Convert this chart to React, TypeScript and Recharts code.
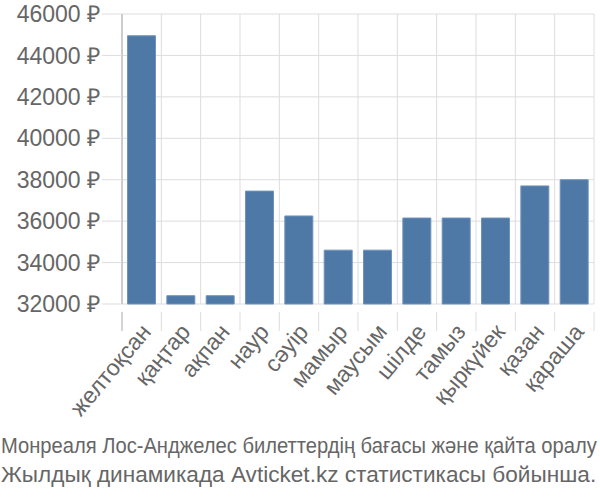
import { useLayoutEffect, useRef, useState } from "react";
import { BarChart, Bar, XAxis, YAxis, CartesianGrid } from "recharts";

// Ticket prices by month (₽)
const months = [
  "желтоқсан", "қаңтар", "ақпан", "наур", "сәуір", "мамыр",
  "маусым", "шілде", "тамыз", "қыркүйек", "қазан", "қараша",
];
const prices = [44950, 32400, 32400, 37450, 36250, 34600, 34600, 36150, 36150, 36150, 37700, 38000];
const yTicks = [32000, 34000, 36000, 38000, 40000, 42000, 44000, 46000];
const captionLines = [
  "Монреаля Лос-Анджелес билеттердің бағасы және қайта оралу",
  "Жылдық динамикада Avticket.kz статистикасы бойынша.",
];

const data = months.map((m, i) => ({ month: m, price: prices[i] }));

const W = 600;
const H = 440;
const margin = { top: 14, right: 6, left: 0, bottom: 0 };
const Y_WIDTH = 122;
const plotW = W - margin.left - margin.right - Y_WIDTH;
const band = plotW / months.length;
const FONT = "Liberation Sans, Arial, sans-serif";

function MonthTick(props: any) {
  const { x, y, payload, index } = props;
  const last = index === months.length - 1;
  return (
    <g>
      <line x1={x - band / 2} x2={x - band / 2} y1={y} y2={y + 19} stroke={index === 0 ? "#aaa" : "#ddd"} />
      {last && <line x1={x + band / 2} x2={x + band / 2} y1={y} y2={y + 19} stroke="#ddd" />}
      <text
        transform={`translate(${x - 2},${y + 10}) rotate(-50)`}
        textAnchor="end"
        dy="0.71em"
        fill="#666"
        fontSize={23}
        fontFamily={FONT}
      >
        {payload.value}
      </text>
    </g>
  );
}

// caption line stretched/squeezed to a given width
function FitLine({ text, width, top, font }: { text: string; width: number; top: number; font: string }) {
  const ref = useRef<HTMLSpanElement>(null);
  const [scale, setScale] = useState(1);
  useLayoutEffect(() => {
    if (ref.current) setScale(width / ref.current.offsetWidth);
  }, [text, width]);
  return (
    <span
      ref={ref}
      style={{
        position: "absolute",
        left: 1,
        top,
        fontFamily: font,
        fontSize: 21.5,
        lineHeight: "24px",
        color: "#666",
        whiteSpace: "nowrap",
        transform: `scaleX(${scale})`,
        transformOrigin: "0 0",
      }}
    >
      {text}
    </span>
  );
}

export default function App() {
  return (
    <div style={{ position: "absolute", left: 0, top: 0, width: W, height: 500, background: "#fff", overflow: "hidden" }}>
      <BarChart width={W} height={H} data={data} margin={margin} barCategoryGap="14%">
        <CartesianGrid
          stroke="#ddd"
          verticalCoordinatesGenerator={({ offset }: any) =>
            months.map((_, i) => offset.left + i * band).concat(offset.left + plotW)
          }
        />
        <XAxis
          dataKey="month"
          height={H - margin.top - 290}
          interval={0}
          axisLine={false}
          tickLine={false}
          tick={<MonthTick />}
        />
        <YAxis
          width={Y_WIDTH}
          domain={[32000, 46000]}
          ticks={yTicks}
          interval={0}
          tickSize={20}
          tickMargin={2}
          tickLine={{ stroke: "#ddd" }}
          axisLine={{ stroke: "#aaa" }}
          tick={{ fill: "#666", fontSize: 23, fontFamily: FONT }}
          tickFormatter={(v) => `${v} ₽`}
        />
        <Bar dataKey="price" fill="#4e79a7" stroke="#6f93bb" strokeWidth={1} isAnimationActive={false} />
      </BarChart>
      <FitLine text={captionLines[0]} width={596} top={434} font="'Liberation Sans Narrow', Arial, sans-serif" />
      <FitLine text={captionLines[1]} width={595} top={463} font={FONT} />
    </div>
  );
}
